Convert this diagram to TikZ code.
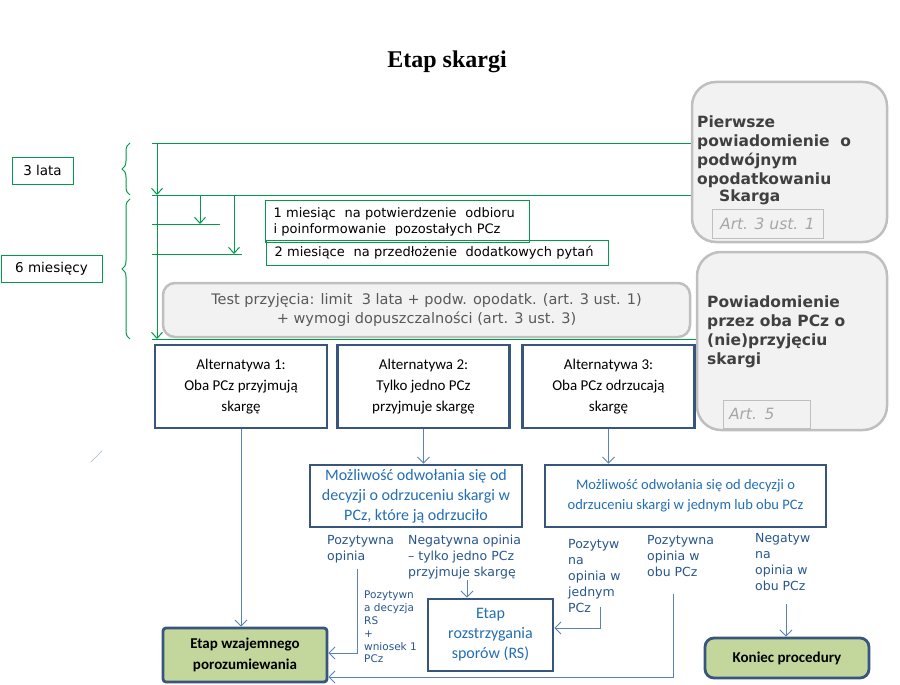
\documentclass[tikz,border=0pt]{standalone}
\usepackage{fontspec}
\setmainfont{DejaVu Sans}
\newfontfamily\calib{Carlito}
\newfontfamily\timesbf{Liberation Serif}
\usetikzlibrary{arrows.meta,decorations.pathreplacing}

\definecolor{lgreen}{RGB}{0,155,75}
\definecolor{navy}{RGB}{56,86,125}
\definecolor{boxgrey}{RGB}{191,191,191}
\definecolor{boxfill}{RGB}{242,242,242}
\definecolor{txtgrey}{RGB}{64,64,64}
\definecolor{testgrey}{RGB}{89,89,89}
\definecolor{artgrey}{RGB}{166,166,166}
\definecolor{linkblue}{RGB}{90,130,185}
\definecolor{lblblue}{RGB}{40,85,140}
\definecolor{optblue}{RGB}{35,110,180}
\definecolor{olive}{RGB}{195,214,155}

\begin{document}
\begin{tikzpicture}[
x=1pt, y=-1pt,
gline/.style={draw=lgreen, line width=1pt},
garrow/.style={gline, -{Straight Barb[length=6pt, width=11pt]}},
gbrace/.style={gline, decorate, decoration={brace, amplitude=8pt}},
tag/.style={draw=lgreen, line width=1pt, inner sep=0pt, font=\fontsize{13.5}{16}\selectfont},
note/.style={draw=lgreen, line width=1pt, inner xsep=8pt, inner ysep=0pt, align=left, anchor=north west, font=\fontsize{13}{16}\selectfont},
greybox/.style={draw=boxgrey, fill=boxfill, line width=2.5pt, rounded corners=24pt, inner sep=0pt},
artbox/.style={draw=boxgrey, fill=boxfill, line width=0.8pt, inner sep=0pt, text=artgrey, font=\fontsize{15.5}{18}\selectfont\itshape},
head/.style={text=txtgrey, align=left, anchor=north west, inner sep=0pt, font=\fontsize{15.5}{19}\selectfont\bfseries},
alt/.style={draw=navy, line width=2.5pt, fill=white, align=center, minimum width=172pt, minimum height=83pt, font=\calib\fontsize{15}{21}\selectfont},
opt/.style={draw=navy, line width=2.8pt, align=center, text=optblue, inner sep=0pt, font=\calib\fontsize{16}{20}\selectfont},
stage/.style={draw=navy, line width=2.8pt, fill=olive, align=center, inner sep=0pt, rounded corners=3pt, font=\calib\fontsize{15}{21}\selectfont\bfseries},
lbl/.style={text=lblblue, align=left, anchor=north west, inner sep=0pt, font=\fontsize{12.5}{16}\selectfont},
link/.style={draw=linkblue, line width=0.9pt, -{Straight Barb[length=6pt, width=12pt]}}
]
\useasboundingbox (0,0) rectangle (900,685);

\node[font=\timesbf\fontsize{24}{28}\selectfont\bfseries] (title) at (447,62) {Etap skargi};

% time line on the left
\node[tag, minimum width=61pt, minimum height=27pt] (lata) at (42.5,170.5) {3 lata};
\node[tag, minimum width=101pt, minimum height=27pt] (mies) at (51.5,268.5) {6 miesięcy};
\draw[gbrace] (130,195) -- (130,143);
\draw[gbrace] (130,339) -- (130,199);

\coordinate (t0) at (157,143);
\coordinate (t1) at (157,195);
\coordinate (t2) at (157,339);
\draw[gline] (152,143) -- (692,143);
\draw[gline] (152,195) -- (692,195);
\draw[gline] (152,339) -- (697,339);
\draw[garrow] (t0) -- (t1);
\draw[garrow] ([yshift=-1pt]t1) -- (t2);
\draw[garrow] (200,195) -- (200,224);
\draw[garrow] (234,195) -- (234,254);
\draw[gline] (152,224) -- (220,224);
\draw[gline] (152,254) -- (242,254);

\node[note, text width=248pt, minimum height=42pt] (odbior) at (265,200) {1 miesiąc\ \ na potwierdzenie\ \ odbioru\\i poinformowanie\ \ pozostałych PCz};
\node[note, text width=326pt, minimum height=25pt] (pytania) at (266,240) {2 miesiące\ \ na przedłożenie\ \ dodatkowych pytań};

\node[greybox, rounded corners=12pt, minimum width=527pt, minimum height=54pt, align=center, text=testgrey, font=\fontsize{14.5}{19}\selectfont] (test) at (426.5,310) {Test przyjęcia: limit\ \ 3 lata + podw. opodatk. (art. 3 ust. 1)\\+ wymogi dopuszczalności (art. 3 ust. 3)};

% boxes on the right
\node[greybox, minimum width=195pt, minimum height=160pt] (right1) at (789.5,162) {};
\node[head] (r1txt) at (697,116) {Pierwsze\\powiadomienie\ \ o\\podwójnym\\opodatkowaniu};
\node[head, anchor=base west] (skarga) at (719,201) {Skarga};
\node[artbox, minimum width=111pt, minimum height=29pt] (art1) at (767.5,223.5) {Art. 3 ust. 1};

\node[greybox, minimum width=190pt, minimum height=178pt] (right2) at (792,341) {};
\node[head] (r2txt) at (707,296) {Powiadomienie\\przez oba PCz o\\(nie)przyjęciu\\skargi};
\node[artbox, minimum width=87pt, minimum height=28pt, text width=75pt] (art5) at (766.5,414) {Art. 5};

% alternatives
\node[alt] (alt1) at (241,386.5) {Alternatywa 1:\\Oba PCz przyjmują\\skargę};
\node[alt] (alt2) at (423.5,386.5) {Alternatywa 2:\\Tylko jedno PCz\\przyjmuje skargę};
\node[alt] (alt3) at (608.5,386.5) {Alternatywa 3:\\Oba PCz odrzucają\\skargę};

\node[opt, minimum width=212pt, minimum height=62pt] (odw1) at (416,496) {Możliwość odwołania się od\\decyzji o odrzuceniu skargi w\\PCz, które ją odrzuciło};
\node[opt, minimum width=281pt, minimum height=62pt, font=\calib\fontsize{14.5}{20}\selectfont] (odw2) at (685.5,496) {Możliwość odwołania się od decyzji o\\odrzuceniu skargi w jednym lub obu PCz};

\node[opt, fill=white, minimum width=125pt, minimum height=72pt] (ers) at (490.5,635) {Etap\\rozstrzygania\\sporów (RS)};
\node[stage, minimum width=164pt, minimum height=54pt] (ewp) at (245,655) {Etap wzajemnego\\porozumiewania};
\node[stage, rounded corners=9pt, minimum width=164pt, minimum height=40pt] (koniec) at (787,658) {Koniec procedury};

% opinions
\node[lbl] (poz1) at (327,535) {Pozytywna\\opinia};
\node[lbl] (neg1) at (408,535) {Negatywna opinia\\– tylko jedno PCz\\przyjmuje skargę};
\node[lbl] (poz2) at (568,539) {Pozytyw\\na\\opinia w\\jednym\\PCz};
\node[lbl] (poz3) at (647,535) {Pozytywna\\opinia w\\obu PCz};
\node[lbl] (neg2) at (755,533) {Negatyw\\na\\opinia w\\obu PCz};
\node[lbl, font=\fontsize{10.5}{12.8}\selectfont] (decRS) at (364,591) {Pozytywn\\a decyzja\\RS\\+\\wniosek 1\\PCz};

\coordinate (p1) at (357,569);
\coordinate (n1) at (467,580);
\coordinate (p2) at (600,607);
\coordinate (p3) at (673,594);
\coordinate (n2) at (786,604);

\draw[link] (alt1.south) -- (alt1.south |- ewp.north);
\draw[link] (alt2.south) -- (alt2.south |- odw1.north);
\draw[link] (alt3.south) -- (alt3.south |- odw2.north);
\draw[link] (p1) |- ([yshift=2pt]ewp.east);
\draw[link] (n1) -- (n1 |- ers.north);
\draw[link] (p2) |- ([yshift=7pt]ers.east);
\draw[link] (p3) |- ([yshift=-22pt]ewp.east);
\draw[link] (n2) -- (n2 |- koniec.north);

\draw[linkblue!60, line width=0.6pt] (91,462) -- (102,451);
\end{tikzpicture}
\end{document}
